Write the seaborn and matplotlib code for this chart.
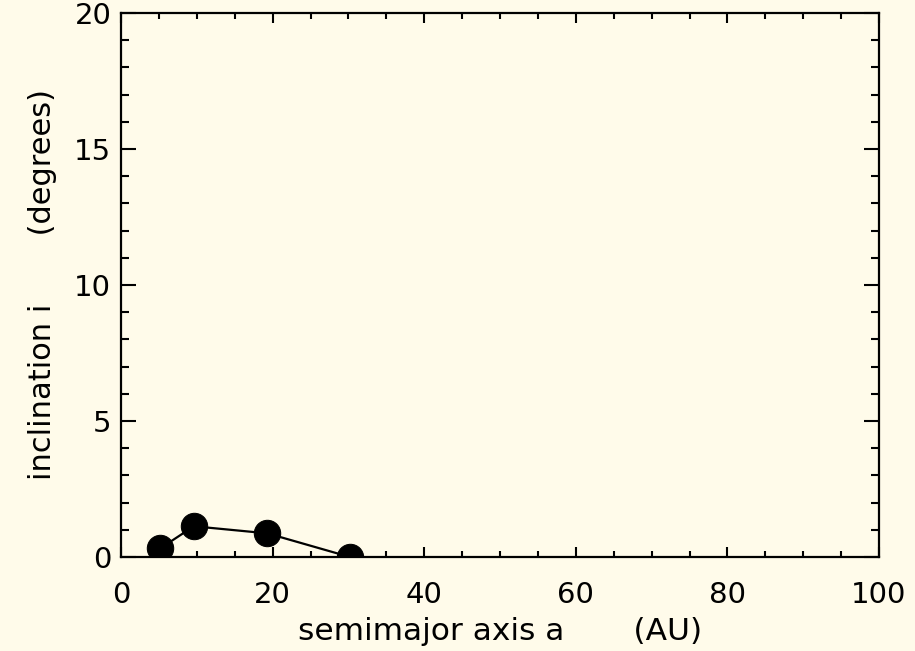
import matplotlib
matplotlib.use("Agg")
import matplotlib.pyplot as plt
import seaborn as sns
import pandas as pd
from matplotlib.ticker import MultipleLocator

# outer planets: semimajor axis (AU) and inclination (degrees)
planets = ["Jupiter", "Saturn", "Uranus", "Neptune"]
semimajor = [5.2, 9.6, 19.3, 30.2]
inclination = [0.32, 1.13, 0.87, 0.0]

df = pd.DataFrame({"planet": planets, "a": semimajor, "i": inclination})

bg = "#fffbea"
sns.set_style("ticks")
plt.rcParams["font.family"] = ["DejaVu Sans"]
plt.rcParams["text.color"] = "black"
plt.rcParams["axes.labelcolor"] = "black"

fig = plt.figure(figsize=(9.15, 6.51), dpi=100, facecolor=bg)
ax = fig.add_axes([121 / 915, 1 - 557 / 651, (879 - 121) / 915, (557 - 13) / 651])
ax.set_facecolor(bg)

sns.lineplot(data=df, x="a", y="i", color="black", linewidth=1.6,
             marker="o", markersize=19, markeredgecolor="black",
             ax=ax, sort=False)

ax.set_xlim(0, 100)
ax.set_ylim(0, 20)
ax.xaxis.set_major_locator(MultipleLocator(20))
ax.xaxis.set_minor_locator(MultipleLocator(5))
ax.yaxis.set_major_locator(MultipleLocator(5))
ax.yaxis.set_minor_locator(MultipleLocator(1))

for s in ax.spines.values():
    s.set_linewidth(1.6)
    s.set_color("black")
    s.set_visible(True)

ax.tick_params(which="both", direction="in", top=True, right=True,
               width=1.5, colors="black", labelsize=21)
ax.tick_params(axis="x", which="major", length=7.5, pad=17)
ax.tick_params(axis="x", which="minor", length=4)
ax.tick_params(axis="y", which="major", length=10.5, pad=7)
ax.tick_params(axis="y", which="minor", length=5.5)

ax.set_xlabel("semimajor axis a       (AU)", fontsize=22.5, labelpad=6)
ax.set_ylabel("inclination i       (degrees)", fontsize=22, labelpad=12)

fig.savefig("out.png", dpi=100, facecolor=bg)
